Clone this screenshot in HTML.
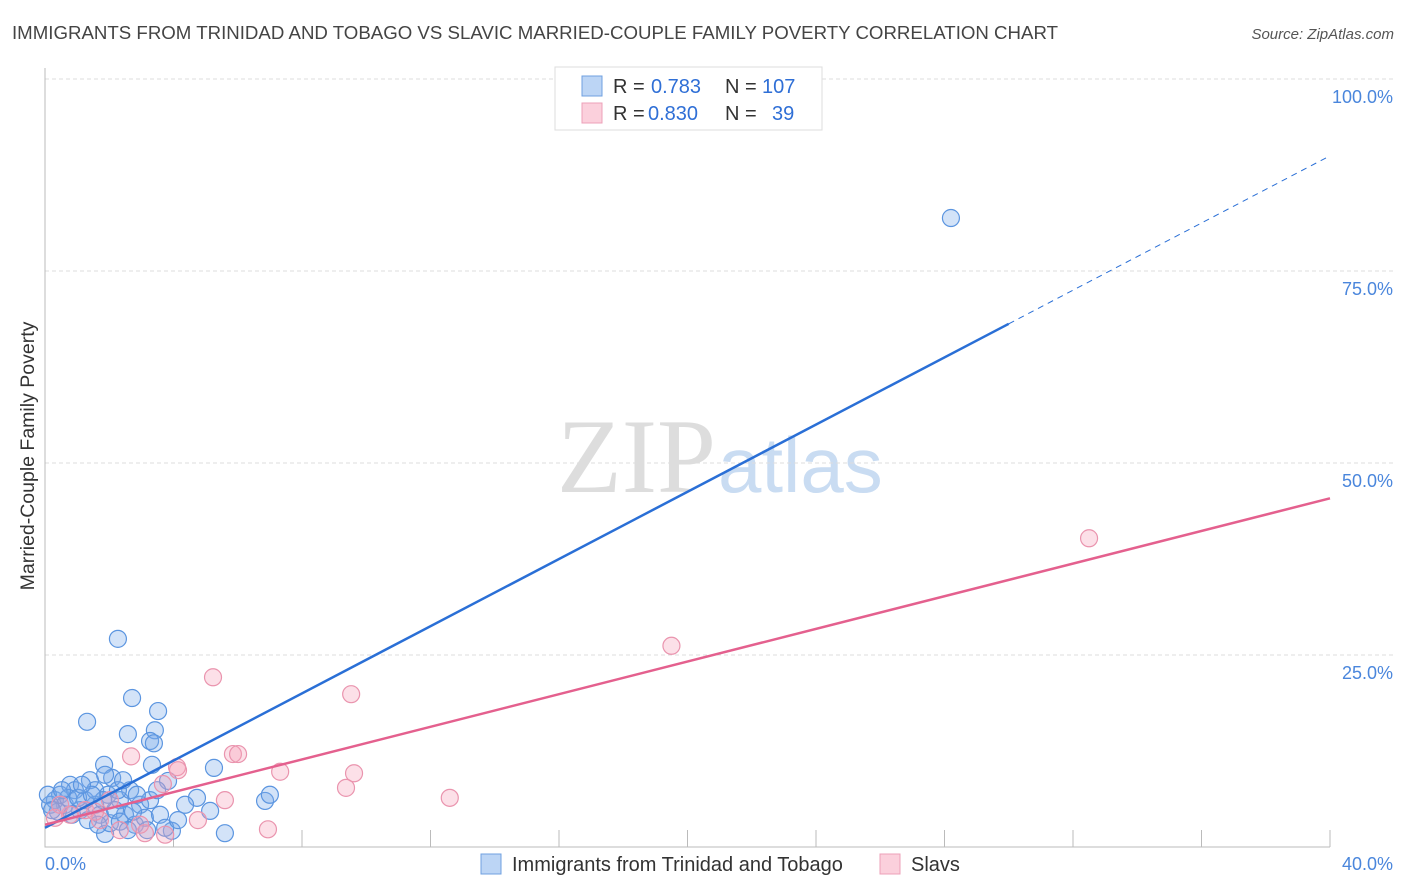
<!DOCTYPE html>
<html><head><meta charset="utf-8"><style>
body{margin:0;background:#fff;font-family:"Liberation Sans",sans-serif;}
svg{display:block}
</style></head><body>
<svg width="1406" height="892" id="c">
<text x="12" y="39" font-size="18" fill="#444" textLength="1046" lengthAdjust="spacingAndGlyphs">IMMIGRANTS FROM TRINIDAD AND TOBAGO VS SLAVIC MARRIED-COUPLE FAMILY POVERTY CORRELATION CHART</text>
<text x="1394" y="39" font-size="15" fill="#555" font-style="italic" text-anchor="end">Source: ZipAtlas.com</text>
<text x="716" y="492" font-size="106" fill="#ddd" font-family="Liberation Serif" text-anchor="end">ZIP</text>
<text x="718" y="492" font-size="78" fill="#c9dcf2">atlas</text>
<text transform="translate(34,456) rotate(-90)" font-size="19.5" fill="#333" text-anchor="middle">Married-Couple Family Poverty</text>
<g id="grid"></g><g id="marks"></g>
<g>
<rect x="555" y="67" width="267" height="63" fill="#fff" stroke="#ddd"/>
<rect x="582" y="76" width="20" height="20" fill="#bcd5f5" stroke="#6fa0e0"/>
<rect x="582" y="103" width="20" height="20" fill="#fbd0dc" stroke="#eca0b8"/>
<text x="613" y="93" font-size="20" fill="#333">R =</text><text x="651" y="93" font-size="20" fill="#2f6fd6">0.783</text>
<text x="725" y="93" font-size="20" fill="#333">N =</text><text x="762" y="93" font-size="20" fill="#2f6fd6">107</text>
<text x="613" y="120" font-size="20" fill="#333">R =</text><text x="648" y="120" font-size="20" fill="#2f6fd6">0.830</text>
<text x="725" y="120" font-size="20" fill="#333">N =</text><text x="772" y="120" font-size="20" fill="#2f6fd6">39</text>
</g>
<g>
<rect x="481" y="854" width="20" height="20" fill="#bcd5f5" stroke="#6fa0e0"/>
<text x="512" y="871" font-size="20" fill="#333">Immigrants from Trinidad and Tobago</text>
<rect x="880" y="854" width="20" height="20" fill="#fbd0dc" stroke="#eca0b8"/>
<text x="911" y="871" font-size="20" fill="#333">Slavs</text>
</g>
</svg>
<script>
const blueX=[28.2,2.27,1.31,2.71,3.52,2.58,3.42,3.27,3.39,1.84,3.33,5.26,3.83,6.85,7.0,5.14,4.73,4.36,5.6,3.95,1.87,2.02,1.56,0.31,0.47,0.62,0.78,0.93,1.09,1.25,1.4,1.56,1.71,1.96,2.09,2.33,2.49,2.65,2.8,2.96,3.11,3.27,3.58,3.74,4.14,0.16,0.09,0.4,0.84,1.34,2.18,1.81,0.72,1.03,1.46,2.27,2.43,2.86,2.74,3.49,3.18,1.87,1.15,0.53,0.22,1.65,2.33,2.58];
const blueY=[81.9,27.1,16.3,19.4,17.7,14.7,15.2,13.8,13.5,10.7,10.7,10.3,8.6,6.0,6.8,4.7,6.4,5.5,1.8,2.1,1.7,3.1,5.5,6.1,6.8,5.5,8.1,7.4,4.8,6.1,8.7,7.4,4.2,6.8,9.0,6.1,4.2,7.4,2.9,5.5,3.8,6.1,4.2,2.5,3.5,5.5,6.8,4.6,4.2,3.5,4.8,6.1,6.4,6.4,6.8,7.4,8.7,6.8,4.6,7.4,2.2,9.4,8.1,7.4,4.8,2.9,3.3,2.2];
const pinkX=[32.5,19.5,5.23,9.53,2.68,5.85,6.01,4.11,4.14,7.32,9.62,9.37,12.6,5.6,6.94,3.67,4.76,3.11,3.74,2.33,1.71,0.78,0.31,1.25,2.02,2.96,0.47,1.56];
const pinkY=[40.2,26.2,22.1,19.9,11.8,12.1,12.1,10.4,10.0,9.8,9.6,7.7,6.4,6.1,2.3,8.2,3.5,1.8,1.6,2.2,3.5,4.2,3.8,4.8,6.1,2.9,5.5,4.6];
const blueLine=[2.5,90.0];
const pinkLine=[2.9,45.4];
const yTicks=[25,50,75,100];
const xTickLabels=["0.0%","40.0%"];
const sx=v=>45+v*32.125, sy=v=>847-v*7.68;
const NS="http://www.w3.org/2000/svg";
function mk(t,a,p){const e=document.createElementNS(NS,t);for(const k in a)e.setAttribute(k,a[k]);p.appendChild(e);return e;}
const g=document.getElementById('grid'), m=document.getElementById('marks');
yTicks.forEach(t=>{
 const l=mk('line',{x1:45,x2:1394,y1:sy(t),y2:sy(t),stroke:'#ddd','stroke-dasharray':'4,3'},g);
 
 
 const tx=mk('text',{x:1393,y:sy(t)+24,'font-size':18,fill:'#4a86dc','text-anchor':'end'},g);
 tx.textContent=t.toFixed(1)+'%';
 
 
});
const ax=mk('path',{d:'M45,68 V847 H1330',stroke:'#bbb',fill:'none'},g);


for(let i=1;i<=10;i++){const tk=mk('line',{x1:sx(i*4),x2:sx(i*4),y1:830,y2:847,stroke:'#bbb'},g);
 
 }
[[0,'start',45],[40,'end',1393]].forEach((d,i)=>{const t=mk('text',{x:d[2],y:870,'font-size':18,fill:'#4a86dc','text-anchor':d[1]},g);t.textContent=xTickLabels[i];
 
 });
function pts(X,Y,fill,stroke,name){X.forEach((x,i)=>{const c=mk('circle',{cx:sx(x),cy:sy(Y[i]),r:8.5,fill:fill,stroke:stroke,'stroke-width':1.2},m);
 
 });}
pts(blueX,blueY,'rgba(120,170,235,0.33)','#5b95e0','blue-point');
pts(pinkX,pinkY,'rgba(245,160,185,0.33)','#ea94ae','pink-point');
const bl=v=>blueLine[0]+(blueLine[1]-blueLine[0])*v/40, pl=v=>pinkLine[0]+(pinkLine[1]-pinkLine[0])*v/40;
const xs=30.0;
let e=mk('line',{x1:sx(0),y1:sy(bl(0)),x2:sx(xs),y2:sy(bl(xs)),stroke:'#2a6fd6','stroke-width':2.5},m);


e=mk('line',{x1:sx(xs),y1:sy(bl(xs)),x2:sx(40),y2:sy(bl(40)),stroke:'#2a6fd6','stroke-width':1,'stroke-dasharray':'6,5'},m);


e=mk('line',{x1:sx(0),y1:sy(pl(0)),x2:sx(40),y2:sy(pl(40)),stroke:'#e4608e','stroke-width':2.5},m);


</script>
</body></html>
